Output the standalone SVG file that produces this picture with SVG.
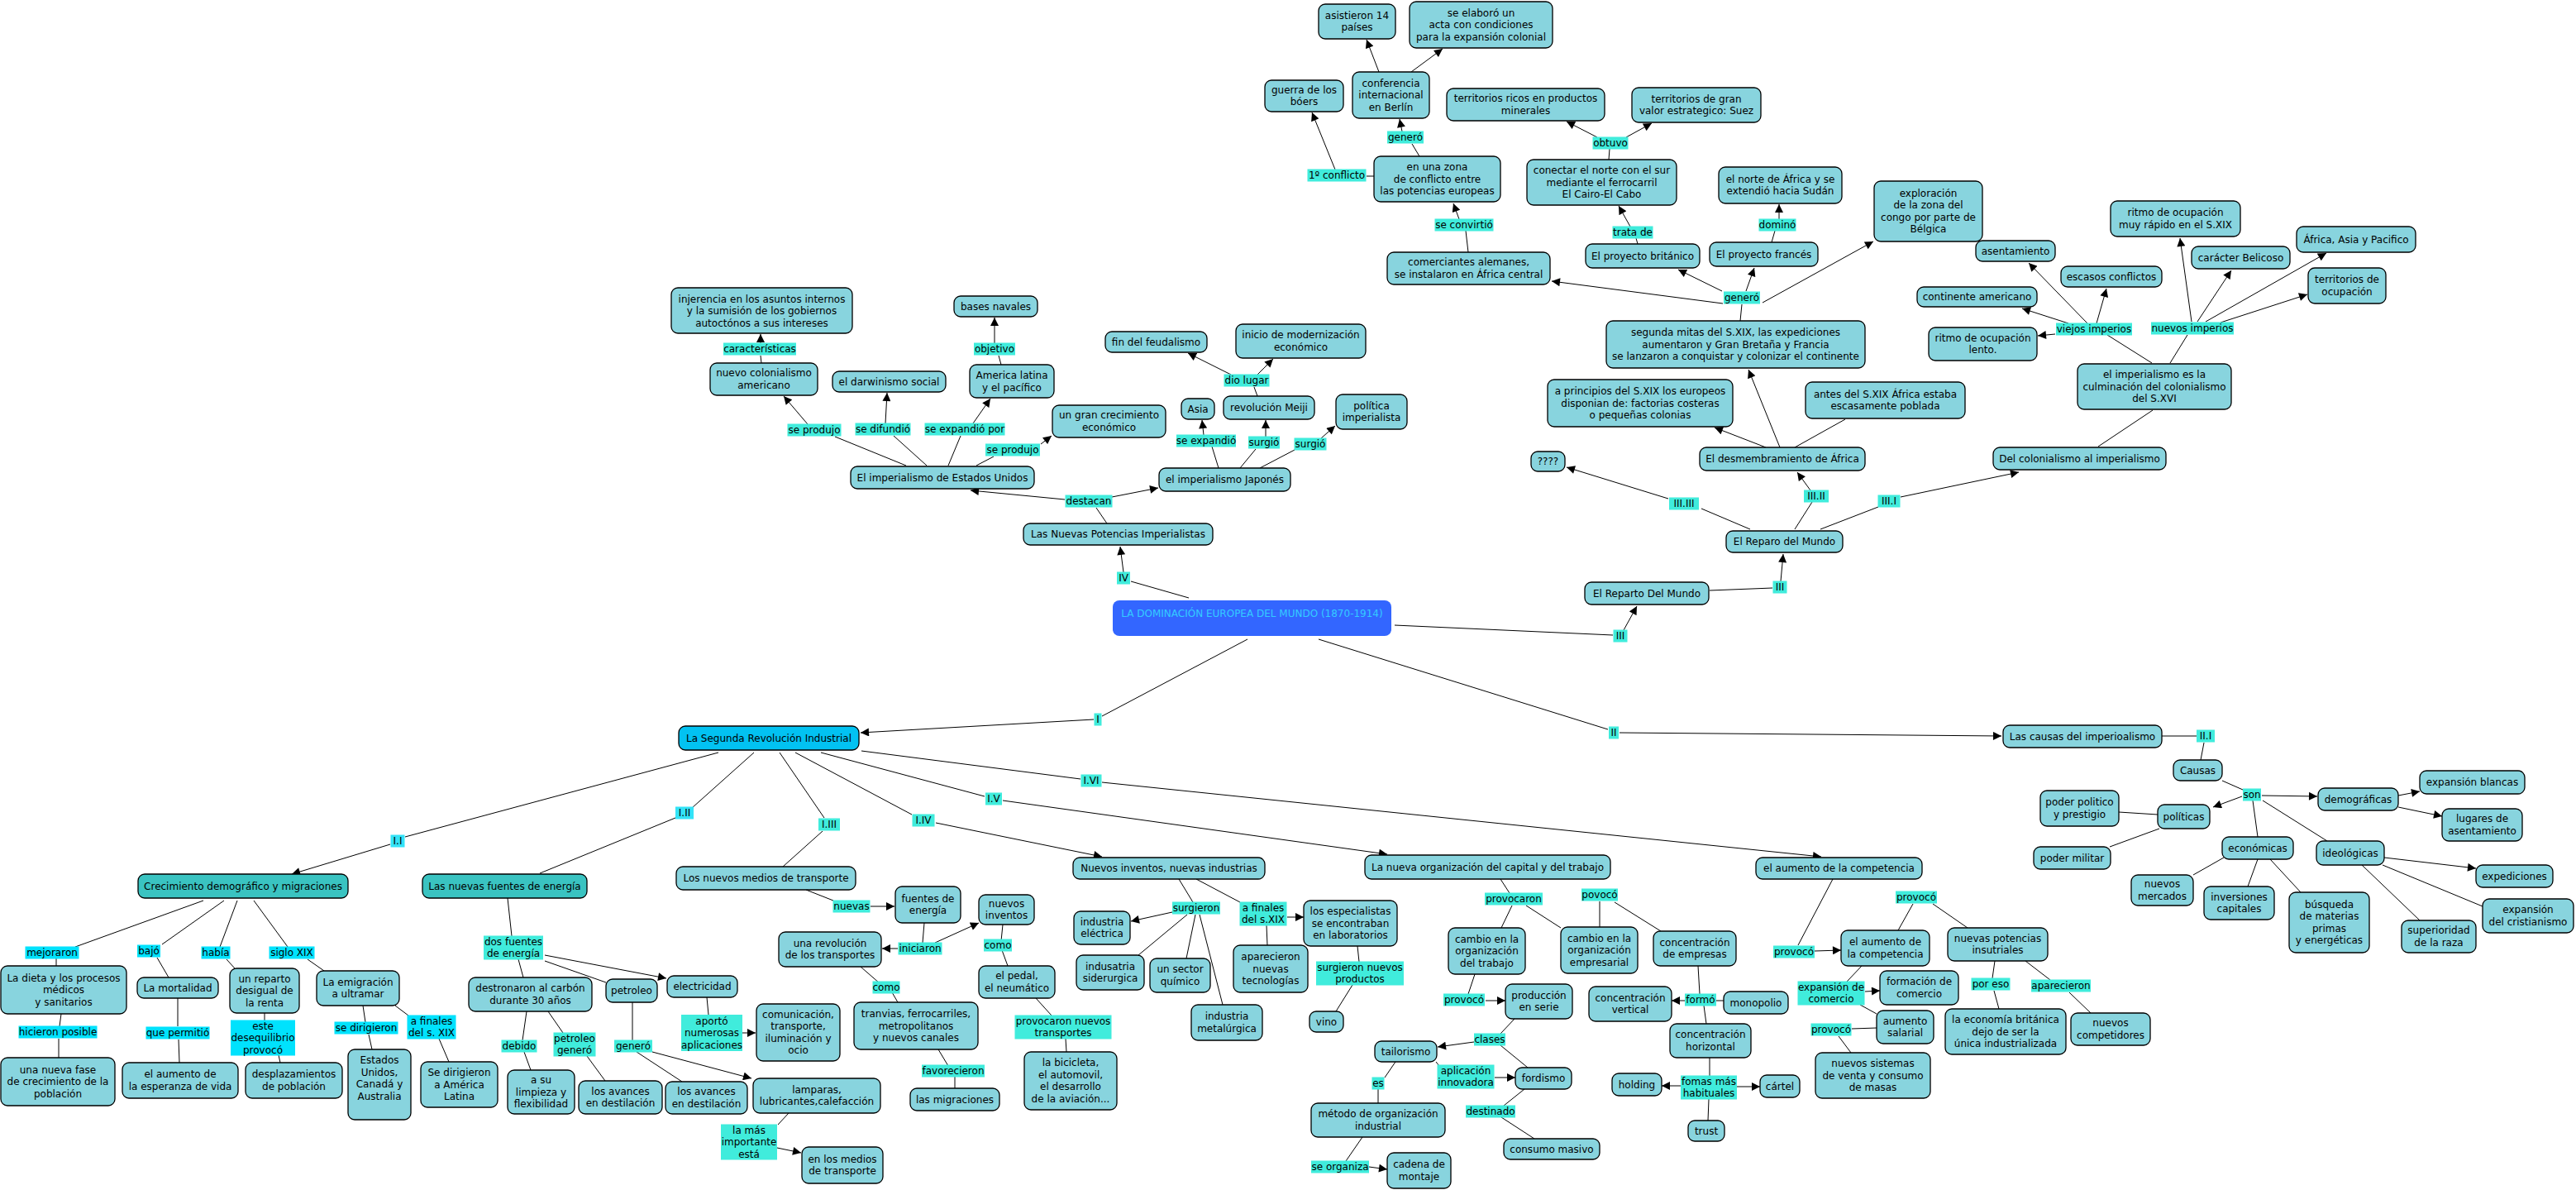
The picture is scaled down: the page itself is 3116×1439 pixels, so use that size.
<svg xmlns="http://www.w3.org/2000/svg" width="3116" height="1439" viewBox="0 0 3116 1439">
<style>
.n rect{fill:#88d4de;stroke:#000;stroke-width:1.3}
.d rect{fill:#3ac3c1}
.s rect{fill:#02c2f2}
text{font-family:"DejaVu Sans",Verdana,sans-serif;font-size:12px;fill:#000;text-anchor:middle}
.l rect{fill:#40ecdc}
.c rect{fill:#00e2fd}
#connectors line{stroke:#000;stroke-width:1}
#connectors .a{marker-end:url(#arr)}
</style>
<defs>
<marker id="arr" viewBox="0 0 10 10" refX="10" refY="5" markerWidth="11" markerHeight="10" markerUnits="userSpaceOnUse" orient="auto"><path d="M0,0 L10,5 L0,10 z" fill="#000"/></marker>
</defs>
<rect width="3116" height="1439" fill="#fff"/>
<g id="connectors">
<line x1="1438" y1="723" x2="1368" y2="703"/>
<line class="a" x1="1359" y1="692" x2="1355" y2="661"/>
<line x1="1509" y1="773" x2="1333" y2="866"/>
<line class="a" x1="1323" y1="870" x2="1041" y2="886"/>
<line x1="1687" y1="756" x2="1951" y2="768"/>
<line class="a" x1="1964" y1="762" x2="1980" y2="733"/>
<line x1="1595" y1="773" x2="1945" y2="882"/>
<line class="a" x1="1959" y1="886" x2="2421" y2="890"/>
<line x1="2068" y1="714" x2="2144" y2="711"/>
<line class="a" x1="2154" y1="703" x2="2157" y2="670"/>
<line x1="2117" y1="640" x2="2058" y2="615"/>
<line class="a" x1="2018" y1="603" x2="1895" y2="565"/>
<line x1="2171" y1="640" x2="2192" y2="607"/>
<line class="a" x1="2190" y1="593" x2="2174" y2="571"/>
<line x1="2202" y1="640" x2="2272" y2="613"/>
<line class="a" x1="2299" y1="601" x2="2442" y2="571"/>
<line x1="2538" y1="540" x2="2604" y2="496"/>
<line x1="2603" y1="439" x2="2549" y2="405"/>
<line x1="2625" y1="439" x2="2646" y2="405"/>
<line class="a" x1="2525" y1="391" x2="2454" y2="318"/>
<line class="a" x1="2536" y1="391" x2="2548" y2="349"/>
<line class="a" x1="2502" y1="391" x2="2446" y2="373"/>
<line class="a" x1="2486" y1="404" x2="2465" y2="406"/>
<line class="a" x1="2651" y1="389" x2="2637" y2="288"/>
<line class="a" x1="2658" y1="389" x2="2699" y2="327"/>
<line class="a" x1="2668" y1="389" x2="2814" y2="306"/>
<line class="a" x1="2686" y1="390" x2="2791" y2="356"/>
<line class="a" x1="2136" y1="541" x2="2074" y2="517"/>
<line class="a" x1="2153" y1="541" x2="2115" y2="447"/>
<line x1="2171" y1="541" x2="2232" y2="507"/>
<line x1="2105" y1="388" x2="2107" y2="368"/>
<line class="a" x1="2084" y1="367" x2="1877" y2="340"/>
<line class="a" x1="2083" y1="352" x2="2030" y2="326"/>
<line class="a" x1="2112" y1="352" x2="2122" y2="324"/>
<line class="a" x1="2132" y1="366" x2="2266" y2="292"/>
<line x1="1776" y1="305" x2="1773" y2="279"/>
<line class="a" x1="1765" y1="265" x2="1758" y2="246"/>
<line x1="1981" y1="295" x2="1979" y2="288"/>
<line class="a" x1="1972" y1="274" x2="1958" y2="249"/>
<line x1="2143" y1="293" x2="2147" y2="279"/>
<line class="a" x1="2152" y1="265" x2="2152" y2="247"/>
<line x1="1946" y1="193" x2="1947" y2="180"/>
<line class="a" x1="1932" y1="166" x2="1895" y2="147"/>
<line class="a" x1="1967" y1="166" x2="1998" y2="149"/>
<line x1="1717" y1="189" x2="1708" y2="174"/>
<line class="a" x1="1696" y1="159" x2="1693" y2="144"/>
<line x1="1662" y1="213" x2="1653" y2="213"/>
<line class="a" x1="1615" y1="205" x2="1587" y2="136"/>
<line class="a" x1="1668" y1="87" x2="1653" y2="48"/>
<line class="a" x1="1707" y1="87" x2="1745" y2="59"/>
<line x1="1339" y1="633" x2="1326" y2="614"/>
<line class="a" x1="1288" y1="604" x2="1174" y2="593"/>
<line class="a" x1="1345" y1="601" x2="1401" y2="590"/>
<line x1="1096" y1="563" x2="1010" y2="528"/>
<line class="a" x1="977" y1="513" x2="948" y2="479"/>
<line x1="1121" y1="563" x2="1081" y2="527"/>
<line class="a" x1="1071" y1="512" x2="1073" y2="475"/>
<line x1="1147" y1="563" x2="1162" y2="527"/>
<line class="a" x1="1177" y1="512" x2="1198" y2="482"/>
<line x1="1181" y1="563" x2="1202" y2="552"/>
<line class="a" x1="1259" y1="537" x2="1272" y2="527"/>
<line x1="921" y1="439" x2="920" y2="430"/>
<line class="a" x1="920" y1="415" x2="920" y2="404"/>
<line x1="1211" y1="441" x2="1208" y2="430"/>
<line class="a" x1="1203" y1="415" x2="1203" y2="384"/>
<line x1="1474" y1="566" x2="1466" y2="540"/>
<line class="a" x1="1456" y1="526" x2="1454" y2="508"/>
<line x1="1500" y1="566" x2="1519" y2="543"/>
<line class="a" x1="1531" y1="528" x2="1531" y2="508"/>
<line x1="1524" y1="566" x2="1566" y2="544"/>
<line class="a" x1="1598" y1="530" x2="1615" y2="515"/>
<line x1="1521" y1="479" x2="1517" y2="468"/>
<line class="a" x1="1489" y1="453" x2="1437" y2="427"/>
<line class="a" x1="1521" y1="453" x2="1540" y2="434"/>
<line x1="869" y1="910" x2="490" y2="1012"/>
<line class="a" x1="472" y1="1021" x2="353" y2="1057"/>
<line x1="912" y1="910" x2="837" y2="977"/>
<line x1="817" y1="989" x2="653" y2="1056"/>
<line x1="943" y1="910" x2="997" y2="989"/>
<line x1="995" y1="1005" x2="947" y2="1048"/>
<line x1="962" y1="910" x2="1103" y2="985"/>
<line class="a" x1="1132" y1="995" x2="1333" y2="1036"/>
<line x1="993" y1="910" x2="1191" y2="963"/>
<line class="a" x1="1213" y1="968" x2="1678" y2="1033"/>
<line x1="1042" y1="908" x2="1307" y2="942"/>
<line class="a" x1="1333" y1="946" x2="2203" y2="1036"/>
<line x1="246" y1="1089" x2="91" y2="1145"/>
<line x1="68" y1="1159" x2="68" y2="1168"/>
<line x1="271" y1="1089" x2="196" y2="1142"/>
<line x1="190" y1="1158" x2="204" y2="1182"/>
<line x1="287" y1="1089" x2="266" y2="1145"/>
<line x1="274" y1="1160" x2="284" y2="1171"/>
<line x1="307" y1="1089" x2="348" y2="1145"/>
<line x1="372" y1="1160" x2="392" y2="1174"/>
<line x1="74" y1="1226" x2="72" y2="1241"/>
<line x1="71" y1="1256" x2="71" y2="1279"/>
<line x1="215" y1="1207" x2="215" y2="1241"/>
<line x1="216" y1="1257" x2="217" y2="1285"/>
<line x1="320" y1="1225" x2="320" y2="1234"/>
<line x1="337" y1="1276" x2="339" y2="1285"/>
<line x1="439" y1="1216" x2="442" y2="1236"/>
<line x1="446" y1="1251" x2="450" y2="1269"/>
<line x1="478" y1="1216" x2="494" y2="1228"/>
<line x1="531" y1="1256" x2="543" y2="1284"/>
<line x1="614" y1="1086" x2="619" y2="1132"/>
<line x1="627" y1="1160" x2="633" y2="1182"/>
<line x1="659" y1="1162" x2="733" y2="1188"/>
<line class="a" x1="659" y1="1155" x2="806" y2="1183"/>
<line x1="637" y1="1223" x2="632" y2="1258"/>
<line x1="634" y1="1272" x2="642" y2="1294"/>
<line x1="663" y1="1223" x2="681" y2="1249"/>
<line x1="710" y1="1277" x2="732" y2="1307"/>
<line x1="765" y1="1212" x2="765" y2="1258"/>
<line x1="770" y1="1272" x2="825" y2="1308"/>
<line class="a" x1="789" y1="1272" x2="909" y2="1304"/>
<line x1="855" y1="1206" x2="857" y2="1227"/>
<line class="a" x1="898" y1="1249" x2="914" y2="1249"/>
<line x1="954" y1="1346" x2="941" y2="1360"/>
<line class="a" x1="940" y1="1388" x2="969" y2="1394"/>
<line x1="975" y1="1076" x2="1008" y2="1089"/>
<line class="a" x1="1053" y1="1096" x2="1082" y2="1096"/>
<line x1="1118" y1="1116" x2="1116" y2="1140"/>
<line class="a" x1="1086" y1="1147" x2="1067" y2="1147"/>
<line class="a" x1="1131" y1="1140" x2="1184" y2="1116"/>
<line x1="1041" y1="1169" x2="1064" y2="1189"/>
<line x1="1079" y1="1200" x2="1086" y2="1212"/>
<line x1="1135" y1="1269" x2="1147" y2="1289"/>
<line x1="1155" y1="1302" x2="1155" y2="1316"/>
<line x1="1213" y1="1118" x2="1211" y2="1138"/>
<line x1="1212" y1="1149" x2="1219" y2="1168"/>
<line x1="1253" y1="1207" x2="1272" y2="1228"/>
<line x1="1289" y1="1256" x2="1290" y2="1272"/>
<line x1="1426" y1="1063" x2="1443" y2="1091"/>
<line x1="1447" y1="1063" x2="1500" y2="1091"/>
<line class="a" x1="1418" y1="1103" x2="1368" y2="1114"/>
<line x1="1436" y1="1106" x2="1377" y2="1155"/>
<line x1="1446" y1="1106" x2="1435" y2="1159"/>
<line x1="1451" y1="1106" x2="1479" y2="1215"/>
<line x1="1532" y1="1119" x2="1533" y2="1143"/>
<line class="a" x1="1557" y1="1109" x2="1577" y2="1109"/>
<line x1="1642" y1="1144" x2="1644" y2="1163"/>
<line x1="1636" y1="1191" x2="1616" y2="1223"/>
<line x1="1815" y1="1063" x2="1826" y2="1080"/>
<line x1="1829" y1="1095" x2="1816" y2="1122"/>
<line x1="1846" y1="1095" x2="1888" y2="1122"/>
<line x1="1935" y1="1121" x2="1935" y2="1090"/>
<line x1="1953" y1="1091" x2="2009" y2="1126"/>
<line x1="1784" y1="1178" x2="1776" y2="1202"/>
<line class="a" x1="1797" y1="1210" x2="1821" y2="1210"/>
<line x1="1832" y1="1232" x2="1815" y2="1250"/>
<line class="a" x1="1783" y1="1260" x2="1739" y2="1266"/>
<line x1="1815" y1="1264" x2="1848" y2="1291"/>
<line x1="1737" y1="1284" x2="1741" y2="1289"/>
<line class="a" x1="1808" y1="1303" x2="1833" y2="1303"/>
<line x1="1688" y1="1284" x2="1675" y2="1303"/>
<line x1="1667" y1="1317" x2="1667" y2="1334"/>
<line x1="1648" y1="1375" x2="1628" y2="1404"/>
<line class="a" x1="1656" y1="1411" x2="1678" y2="1414"/>
<line x1="1844" y1="1317" x2="1819" y2="1337"/>
<line x1="1816" y1="1351" x2="1856" y2="1377"/>
<line x1="2054" y1="1168" x2="2056" y2="1202"/>
<line class="a" x1="2038" y1="1210" x2="2022" y2="1210"/>
<line x1="2076" y1="1210" x2="2085" y2="1210"/>
<line x1="2061" y1="1216" x2="2064" y2="1238"/>
<line x1="2068" y1="1279" x2="2068" y2="1301"/>
<line class="a" x1="2033" y1="1313" x2="2010" y2="1313"/>
<line class="a" x1="2101" y1="1314" x2="2129" y2="1314"/>
<line x1="2067" y1="1329" x2="2066" y2="1355"/>
<line x1="2217" y1="1063" x2="2175" y2="1143"/>
<line class="a" x1="2195" y1="1150" x2="2227" y2="1149"/>
<line x1="2314" y1="1093" x2="2296" y2="1125"/>
<line x1="2338" y1="1093" x2="2380" y2="1122"/>
<line x1="2252" y1="1168" x2="2234" y2="1187"/>
<line class="a" x1="2256" y1="1199" x2="2274" y2="1198"/>
<line x1="2250" y1="1215" x2="2270" y2="1226"/>
<line x1="2270" y1="1243" x2="2240" y2="1244"/>
<line x1="2224" y1="1253" x2="2239" y2="1273"/>
<line x1="2413" y1="1162" x2="2410" y2="1183"/>
<line x1="2412" y1="1198" x2="2418" y2="1220"/>
<line x1="2450" y1="1162" x2="2480" y2="1185"/>
<line x1="2503" y1="1200" x2="2529" y2="1225"/>
<line x1="2615" y1="890" x2="2657" y2="890"/>
<line x1="2666" y1="898" x2="2662" y2="919"/>
<line x1="2688" y1="944" x2="2713" y2="955"/>
<line class="a" x1="2712" y1="963" x2="2677" y2="976"/>
<line class="a" x1="2736" y1="962" x2="2803" y2="963"/>
<line x1="2725" y1="968" x2="2731" y2="1012"/>
<line x1="2737" y1="968" x2="2815" y2="1017"/>
<line x1="2610" y1="985" x2="2563" y2="982"/>
<line x1="2612" y1="1002" x2="2552" y2="1024"/>
<line class="a" x1="2901" y1="962" x2="2927" y2="957"/>
<line class="a" x1="2901" y1="976" x2="2954" y2="987"/>
<line x1="2690" y1="1037" x2="2653" y2="1058"/>
<line x1="2731" y1="1039" x2="2719" y2="1072"/>
<line x1="2746" y1="1039" x2="2783" y2="1079"/>
<line class="a" x1="2884" y1="1037" x2="2995" y2="1050"/>
<line x1="2882" y1="1046" x2="3003" y2="1096"/>
<line x1="2857" y1="1046" x2="2927" y2="1113"/>
</g>

<g id="n-injerencia" class="n"><rect x="812" y="348" width="219" height="55" rx="8"/><text><tspan x="921.5" y="365.5">injerencia en los asuntos internos</tspan><tspan x="921.5" y="380">y la sumisión de los gobiernos</tspan><tspan x="921.5" y="394.5">autoctónos a sus intereses</tspan></text></g>
<g id="n-nuevo-colonialismo" class="n"><rect x="859" y="439" width="130" height="39" rx="8"/><text><tspan x="924" y="455">nuevo colonialismo</tspan><tspan x="924" y="469.5">americano</tspan></text></g>
<g id="n-darwinismo" class="n"><rect x="1007" y="449" width="137" height="25" rx="8"/><text x="1075.5" y="466">el darwinismo social</text></g>
<g id="n-bases" class="n"><rect x="1154" y="358" width="101" height="25" rx="8"/><text x="1204.5" y="375">bases navales</text></g>
<g id="n-america-latina" class="n"><rect x="1173" y="441" width="102" height="40" rx="8"/><text><tspan x="1224" y="458">America latina</tspan><tspan x="1224" y="472.5">y el pacífico</tspan></text></g>
<g id="n-feudalismo" class="n"><rect x="1337" y="401" width="123" height="25" rx="8"/><text x="1398.5" y="418">fin del feudalismo</text></g>
<g id="n-modernizacion" class="n"><rect x="1495" y="392" width="157" height="41" rx="8"/><text><tspan x="1573.5" y="409.25">inicio de modernización</tspan><tspan x="1573.5" y="423.75">económico</tspan></text></g>
<g id="n-boers" class="n"><rect x="1530" y="97" width="95" height="38" rx="8"/><text><tspan x="1577.5" y="112.75">guerra de los</tspan><tspan x="1577.5" y="127.25">bóers</tspan></text></g>
<g id="n-asistieron" class="n"><rect x="1595" y="5" width="93" height="42" rx="8"/><text><tspan x="1641.5" y="22.75">asistieron 14</tspan><tspan x="1641.5" y="37.25">países</tspan></text></g>
<g id="n-acta" class="n"><rect x="1705" y="2" width="173" height="56" rx="8"/><text><tspan x="1791.5" y="19.5">se elaboró un</tspan><tspan x="1791.5" y="34">acta con condiciones</tspan><tspan x="1791.5" y="48.5">para la expansión colonial</tspan></text></g>
<g id="n-conferencia" class="n"><rect x="1636" y="87" width="93" height="56" rx="8"/><text><tspan x="1682.5" y="104.5">conferencia</tspan><tspan x="1682.5" y="119">internacional</tspan><tspan x="1682.5" y="133.5">en Berlín</tspan></text></g>
<g id="n-terr-ricos" class="n"><rect x="1750" y="107" width="191" height="39" rx="8"/><text><tspan x="1845.5" y="123.25">territorios ricos en productos</tspan><tspan x="1845.5" y="137.75">minerales</tspan></text></g>
<g id="n-terr-suez" class="n"><rect x="1974" y="106" width="156" height="42" rx="8"/><text><tspan x="2052" y="123.75">territorios de gran</tspan><tspan x="2052" y="138.25">valor estrategico: Suez</tspan></text></g>
<g id="n-zona" class="n"><rect x="1662" y="189" width="153" height="55" rx="8"/><text><tspan x="1738.5" y="206">en una zona</tspan><tspan x="1738.5" y="220.5">de conflicto entre</tspan><tspan x="1738.5" y="235">las potencias europeas</tspan></text></g>
<g id="n-conectar" class="n"><rect x="1847" y="193" width="181" height="55" rx="8"/><text><tspan x="1937.5" y="210">conectar el norte con el sur</tspan><tspan x="1937.5" y="224.5">mediante el ferrocarril</tspan><tspan x="1937.5" y="239">El Cairo-El Cabo</tspan></text></g>
<g id="n-norte-africa" class="n"><rect x="2079" y="202" width="149" height="44" rx="8"/><text><tspan x="2153.5" y="220.75">el norte de África y se</tspan><tspan x="2153.5" y="235.25">extendió hacia Sudán</tspan></text></g>
<g id="n-exploracion" class="n"><rect x="2267" y="219" width="131" height="73" rx="8"/><text><tspan x="2332.5" y="237.75">exploración</tspan><tspan x="2332.5" y="252.25">de la zona del</tspan><tspan x="2332.5" y="266.75">congo por parte de</tspan><tspan x="2332.5" y="281.25">Bélgica</tspan></text></g>
<g id="n-comerciantes" class="n"><rect x="1678" y="305" width="197" height="39" rx="8"/><text><tspan x="1776.5" y="321.25">comerciantes alemanes,</tspan><tspan x="1776.5" y="335.75">se instalaron en África central</tspan></text></g>
<g id="n-britanico" class="n"><rect x="1918" y="295" width="138" height="29" rx="8"/><text x="1987" y="313.5">El proyecto británico</text></g>
<g id="n-frances" class="n"><rect x="2068" y="293" width="131" height="29" rx="8"/><text x="2133.5" y="311.5">El proyecto francés</text></g>
<g id="n-segunda-mitad" class="n"><rect x="1943" y="388" width="313" height="57" rx="8"/><text><tspan x="2099.5" y="406">segunda mitas del S.XIX, las expediciones</tspan><tspan x="2099.5" y="420.5">aumentaron y Gran Bretaña y Francia</tspan><tspan x="2099.5" y="435">se lanzaron a conquistar y colonizar el continente</tspan></text></g>
<g id="n-principios" class="n"><rect x="1872" y="459" width="224" height="57" rx="8"/><text><tspan x="1984" y="477">a principios del S.XIX los europeos</tspan><tspan x="1984" y="491.5">disponian de: factorias costeras</tspan><tspan x="1984" y="506">o pequeñas colonias</tspan></text></g>
<g id="n-antes" class="n"><rect x="2184" y="462" width="193" height="44" rx="8"/><text><tspan x="2280.5" y="480.75">antes del S.XIX África estaba</tspan><tspan x="2280.5" y="495.25">escasamente poblada</tspan></text></g>
<g id="n-asentamiento" class="n"><rect x="2390" y="291" width="96" height="25" rx="8"/><text x="2438" y="308">asentamiento</text></g>
<g id="n-escasos" class="n"><rect x="2493" y="322" width="122" height="25" rx="8"/><text x="2554" y="339">escasos conflictos</text></g>
<g id="n-continente" class="n"><rect x="2319" y="347" width="145" height="24" rx="8"/><text x="2391.5" y="363">continente americano</text></g>
<g id="n-ritmo-lento" class="n"><rect x="2333" y="396" width="131" height="40" rx="8"/><text><tspan x="2398.5" y="412.75">ritmo de ocupación</tspan><tspan x="2398.5" y="427.25">lento.</tspan></text></g>
<g id="n-ritmo-rapido" class="n"><rect x="2553" y="243" width="157" height="43" rx="8"/><text><tspan x="2631.5" y="261.25">ritmo de ocupación</tspan><tspan x="2631.5" y="275.75">muy rápido en el S.XIX</tspan></text></g>
<g id="n-belicoso" class="n"><rect x="2651" y="298" width="119" height="27" rx="8"/><text x="2710.5" y="315.5">carácter Belicoso</text></g>
<g id="n-africa-asia" class="n"><rect x="2778" y="274" width="144" height="31" rx="8"/><text x="2850" y="293.5">África, Asia y Pacifico</text></g>
<g id="n-terr-ocupacion" class="n"><rect x="2792" y="324" width="94" height="43" rx="8"/><text><tspan x="2839" y="342.25">territorios de</tspan><tspan x="2839" y="356.75">ocupación</tspan></text></g>
<g id="n-culminacion" class="n"><rect x="2513" y="440" width="186" height="55" rx="8"/><text><tspan x="2606" y="457">el imperialismo es la</tspan><tspan x="2606" y="471.5">culminación del colonialismo</tspan><tspan x="2606" y="486">del S.XVI</tspan></text></g>
<g id="n-del-colonialismo" class="n"><rect x="2411" y="541" width="209" height="27" rx="8"/><text x="2515.5" y="558.5">Del colonialismo al imperialismo</text></g>
<g id="n-crecimiento-eco" class="n"><rect x="1273" y="490" width="137" height="39" rx="8"/><text><tspan x="1341.5" y="506.25">un gran crecimiento</tspan><tspan x="1341.5" y="520.75">económico</tspan></text></g>
<g id="n-asia" class="n"><rect x="1429" y="482" width="40" height="25" rx="8"/><text x="1449" y="499">Asia</text></g>
<g id="n-meiji" class="n"><rect x="1480" y="479" width="110" height="28" rx="8"/><text x="1535" y="497">revolución Meiji</text></g>
<g id="n-politica-imp" class="n"><rect x="1616" y="477" width="86" height="42" rx="8"/><text><tspan x="1659" y="494.75">política</tspan><tspan x="1659" y="509.25">imperialista</tspan></text></g>
<g id="n-eeuu" class="n"><rect x="1029" y="564" width="222" height="27" rx="8"/><text x="1140" y="581.5">El imperialismo de Estados Unidos</text></g>
<g id="n-japones" class="n"><rect x="1402" y="566" width="159" height="28" rx="8"/><text x="1481.5" y="584">el imperialismo Japonés</text></g>
<g id="n-interrog" class="n"><rect x="1852" y="546" width="41" height="24" rx="8"/><text x="1872.5" y="562">????</text></g>
<g id="n-desmembramiento" class="n"><rect x="2056" y="541" width="200" height="28" rx="8"/><text x="2156" y="559">El desmembramiento de África</text></g>
<g id="n-reparo" class="n"><rect x="2088" y="642" width="141" height="26" rx="8"/><text x="2158.5" y="659">El Reparo del Mundo</text></g>
<g id="n-reparto" class="n"><rect x="1917" y="704" width="150" height="27" rx="8"/><text x="1992" y="721.5">El Reparto Del Mundo</text></g>
<g id="n-nuevas-potencias-imp" class="n"><rect x="1238" y="633" width="229" height="26" rx="8"/><text x="1352.5" y="650">Las Nuevas Potencias Imperialistas</text></g>
<g id="n-root"><rect x="1346" y="726" width="337" height="43" rx="8" fill="#3366ff"/><text x="1514.5" y="746" style="fill:#33ccff">LA DOMINACIÓN EUROPEA DEL MUNDO (1870-1914)</text></g>
<g id="n-segunda-rev" class="n s"><rect x="821" y="878" width="218" height="29" rx="8"/><text x="930" y="896.5">La Segunda Revolución Industrial</text></g>
<g id="n-causas-imp" class="n"><rect x="2423" y="877" width="192" height="27" rx="8"/><text x="2519" y="894.5">Las causas del imperioalismo</text></g>
<g id="n-causas" class="n"><rect x="2629" y="919" width="59" height="25" rx="8"/><text x="2658.5" y="935.5">Causas</text></g>
<g id="n-exp-blancas" class="n"><rect x="2927" y="932" width="127" height="28" rx="8"/><text x="2990.5" y="950">expansión blancas</text></g>
<g id="n-poder-politico" class="n"><rect x="2468" y="956" width="95" height="43" rx="8"/><text><tspan x="2515.5" y="974.25">poder politico</tspan><tspan x="2515.5" y="988.75">y prestigio</tspan></text></g>
<g id="n-politicas" class="n"><rect x="2610" y="973" width="63" height="29" rx="8"/><text x="2641.5" y="991.5">políticas</text></g>
<g id="n-demograficas" class="n"><rect x="2804" y="953" width="97" height="27" rx="8"/><text x="2852.5" y="970.5">demográficas</text></g>
<g id="n-lugares" class="n"><rect x="2954" y="978" width="97" height="39" rx="8"/><text><tspan x="3002.5" y="994.25">lugares de</tspan><tspan x="3002.5" y="1008.75">asentamiento</tspan></text></g>
<g id="n-poder-militar" class="n"><rect x="2460" y="1024" width="93" height="27" rx="8"/><text x="2506.5" y="1041.5">poder militar</text></g>
<g id="n-economicas" class="n"><rect x="2688" y="1012" width="86" height="27" rx="8"/><text x="2731" y="1029.5">económicas</text></g>
<g id="n-ideologicas" class="n"><rect x="2802" y="1017" width="82" height="29" rx="8"/><text x="2843" y="1035.5">ideológicas</text></g>
<g id="n-expediciones" class="n"><rect x="2995" y="1046" width="93" height="27" rx="8"/><text x="3041.5" y="1063.5">expediciones</text></g>
<g id="n-mercados" class="n"><rect x="2578" y="1058" width="75" height="37" rx="8"/><text><tspan x="2615.5" y="1073.25">nuevos</tspan><tspan x="2615.5" y="1087.75">mercados</tspan></text></g>
<g id="n-inversiones" class="n"><rect x="2666" y="1072" width="85" height="40" rx="8"/><text><tspan x="2708.5" y="1088.75">inversiones</tspan><tspan x="2708.5" y="1103.25">capitales</tspan></text></g>
<g id="n-busqueda" class="n"><rect x="2769" y="1079" width="97" height="73" rx="8"/><text><tspan x="2817.5" y="1097.75">búsqueda</tspan><tspan x="2817.5" y="1112.25">de materias</tspan><tspan x="2817.5" y="1126.75">primas</tspan><tspan x="2817.5" y="1141.25">y energéticas</tspan></text></g>
<g id="n-superioridad" class="n"><rect x="2905" y="1113" width="90" height="39" rx="8"/><text><tspan x="2950" y="1129.25">superioridad</tspan><tspan x="2950" y="1143.75">de la raza</tspan></text></g>
<g id="n-cristianismo" class="n"><rect x="3003" y="1087" width="110" height="41" rx="8"/><text><tspan x="3058" y="1104.25">expansión</tspan><tspan x="3058" y="1118.75">del cristianismo</tspan></text></g>
<g id="n-nuevas-potencias-ind" class="n"><rect x="2356" y="1122" width="121" height="40" rx="8"/><text><tspan x="2416.5" y="1138.75">nuevas potencias</tspan><tspan x="2416.5" y="1153.25">insutriales</tspan></text></g>
<g id="n-economia-brit" class="n"><rect x="2353" y="1220" width="146" height="55" rx="8"/><text><tspan x="2426" y="1237">la economía británica</tspan><tspan x="2426" y="1251.5">dejo de ser la</tspan><tspan x="2426" y="1266">única industrializada</tspan></text></g>
<g id="n-competidores" class="n"><rect x="2505" y="1225" width="96" height="39" rx="8"/><text><tspan x="2553" y="1241.25">nuevos</tspan><tspan x="2553" y="1255.75">competidores</tspan></text></g>

<g id="n-crecimiento-dem" class="n d"><rect x="167" y="1057" width="254" height="29" rx="8"/><text x="294" y="1075.5">Crecimiento demográfico y migraciones</text></g>
<g id="n-nuevas-fuentes" class="n d"><rect x="511" y="1057" width="199" height="29" rx="8"/><text x="610.5" y="1075.5">Las nuevas fuentes de energía</text></g>
<g id="n-dieta" class="n"><rect x="1" y="1168" width="152" height="58" rx="8"/><text><tspan x="77" y="1186.5">La dieta y los procesos</tspan><tspan x="77" y="1201">médicos</tspan><tspan x="77" y="1215.5">y sanitarios</tspan></text></g>
<g id="n-mortalidad" class="n"><rect x="166" y="1182" width="98" height="25" rx="8"/><text x="215" y="1198.5">La mortalidad</text></g>
<g id="n-reparto-renta" class="n"><rect x="278" y="1171" width="84" height="54" rx="8"/><text><tspan x="320" y="1187.5">un reparto</tspan><tspan x="320" y="1202">desigual de</tspan><tspan x="320" y="1216.5">la renta</tspan></text></g>
<g id="n-emigracion" class="n"><rect x="383" y="1174" width="100" height="42" rx="8"/><text><tspan x="433" y="1191.75">La emigración</tspan><tspan x="433" y="1206.25">a ultramar</tspan></text></g>
<g id="n-nueva-fase" class="n"><rect x="1" y="1279" width="138" height="58" rx="8"/><text><tspan x="70" y="1297.5">una nueva fase</tspan><tspan x="70" y="1312">de crecimiento de la</tspan><tspan x="70" y="1326.5">población</tspan></text></g>
<g id="n-esperanza" class="n"><rect x="148" y="1285" width="140" height="43" rx="8"/><text><tspan x="218" y="1303.25">el aumento de</tspan><tspan x="218" y="1317.75">la esperanza de vida</tspan></text></g>
<g id="n-desplazamientos" class="n"><rect x="297" y="1285" width="117" height="43" rx="8"/><text><tspan x="355.5" y="1303.25">desplazamientos</tspan><tspan x="355.5" y="1317.75">de población</tspan></text></g>
<g id="n-eeuu-canada" class="n"><rect x="421" y="1269" width="76" height="85" rx="8"/><text><tspan x="459" y="1286">Estados</tspan><tspan x="459" y="1300.5">Unidos,</tspan><tspan x="459" y="1315">Canadá y</tspan><tspan x="459" y="1329.5">Australia</tspan></text></g>
<g id="n-america-lat" class="n"><rect x="509" y="1284" width="93" height="55" rx="8"/><text><tspan x="555.5" y="1301">Se dirigieron</tspan><tspan x="555.5" y="1315.5">a América</tspan><tspan x="555.5" y="1330">Latina</tspan></text></g>
<g id="n-destronaron" class="n"><rect x="567" y="1182" width="149" height="41" rx="8"/><text><tspan x="641.5" y="1199.25">destronaron al carbón</tspan><tspan x="641.5" y="1213.75">durante 30 años</tspan></text></g>
<g id="n-petroleo" class="n"><rect x="733" y="1184" width="62" height="28" rx="8"/><text x="764" y="1202">petroleo</text></g>
<g id="n-limpieza" class="n"><rect x="614" y="1294" width="81" height="53" rx="8"/><text><tspan x="654.5" y="1310">a su</tspan><tspan x="654.5" y="1324.5">limpieza y</tspan><tspan x="654.5" y="1339">flexibilidad</tspan></text></g>
<g id="n-avances1" class="n"><rect x="700" y="1307" width="101" height="40" rx="8"/><text><tspan x="750.5" y="1323.75">los avances</tspan><tspan x="750.5" y="1338.25">en destilación</tspan></text></g>
<g id="n-electricidad" class="n"><rect x="807" y="1180" width="85" height="26" rx="8"/><text x="849.5" y="1197">electricidad</text></g>
<g id="n-comunicacion" class="n"><rect x="915" y="1214" width="101" height="69" rx="8"/><text><tspan x="965.5" y="1230.75">comunicación,</tspan><tspan x="965.5" y="1245.25">transporte,</tspan><tspan x="965.5" y="1259.75">iluminación y</tspan><tspan x="965.5" y="1274.25">ocio</tspan></text></g>
<g id="n-lamparas" class="n"><rect x="911" y="1304" width="154" height="42" rx="8"/><text><tspan x="988" y="1321.75">lamparas,</tspan><tspan x="988" y="1336.25">lubricantes,calefacción</tspan></text></g>
<g id="n-avances2" class="n"><rect x="805" y="1308" width="99" height="39" rx="8"/><text><tspan x="854.5" y="1324.25">los avances</tspan><tspan x="854.5" y="1338.75">en destilación</tspan></text></g>
<g id="n-medios-transp" class="n"><rect x="970" y="1387" width="98" height="44" rx="8"/><text><tspan x="1019" y="1405.75">en los medios</tspan><tspan x="1019" y="1420.25">de transporte</tspan></text></g>
<g id="n-nuevos-medios" class="n"><rect x="818" y="1048" width="217" height="28" rx="8"/><text x="926.5" y="1066">Los nuevos medios de transporte</text></g>
<g id="n-fuentes-energia" class="n"><rect x="1083" y="1072" width="79" height="44" rx="8"/><text><tspan x="1122.5" y="1090.75">fuentes de</tspan><tspan x="1122.5" y="1105.25">energía</tspan></text></g>
<g id="n-nuevos-inventos" class="n"><rect x="1184" y="1082" width="67" height="36" rx="8"/><text><tspan x="1217.5" y="1096.75">nuevos</tspan><tspan x="1217.5" y="1111.25">inventos</tspan></text></g>
<g id="n-revolucion-transp" class="n"><rect x="942" y="1127" width="124" height="42" rx="8"/><text><tspan x="1004" y="1144.75">una revolución</tspan><tspan x="1004" y="1159.25">de los transportes</tspan></text></g>
<g id="n-pedal" class="n"><rect x="1184" y="1168" width="92" height="39" rx="8"/><text><tspan x="1230" y="1184.25">el pedal,</tspan><tspan x="1230" y="1198.75">el neumático</tspan></text></g>
<g id="n-tranvias" class="n"><rect x="1033" y="1212" width="150" height="57" rx="8"/><text><tspan x="1108" y="1230">tranvias, ferrocarriles,</tspan><tspan x="1108" y="1244.5">metropolitanos</tspan><tspan x="1108" y="1259">y nuevos canales</tspan></text></g>
<g id="n-migraciones" class="n"><rect x="1101" y="1316" width="108" height="27" rx="8"/><text x="1155" y="1333.5">las migraciones</text></g>
<g id="n-bicicleta" class="n"><rect x="1239" y="1272" width="112" height="70" rx="8"/><text><tspan x="1295" y="1289.25">la bicicleta,</tspan><tspan x="1295" y="1303.75">el automovil,</tspan><tspan x="1295" y="1318.25">el desarrollo</tspan><tspan x="1295" y="1332.75">de la aviación...</tspan></text></g>
<g id="n-nuevos-inv-ind" class="n"><rect x="1298" y="1037" width="232" height="26" rx="8"/><text x="1414" y="1054">Nuevos inventos, nuevas industrias</text></g>
<g id="n-ind-electrica" class="n"><rect x="1299" y="1102" width="68" height="40" rx="8"/><text><tspan x="1333" y="1118.75">industria</tspan><tspan x="1333" y="1133.25">eléctrica</tspan></text></g>
<g id="n-siderurgica" class="n"><rect x="1302" y="1155" width="82" height="42" rx="8"/><text><tspan x="1343" y="1172.75">indusatria</tspan><tspan x="1343" y="1187.25">siderurgica</tspan></text></g>
<g id="n-quimico" class="n"><rect x="1391" y="1159" width="73" height="41" rx="8"/><text><tspan x="1427.5" y="1176.25">un sector</tspan><tspan x="1427.5" y="1190.75">químico</tspan></text></g>
<g id="n-metalurgica" class="n"><rect x="1441" y="1215" width="86" height="43" rx="8"/><text><tspan x="1484" y="1233.25">industria</tspan><tspan x="1484" y="1247.75">metalúrgica</tspan></text></g>
<g id="n-tecnologias" class="n"><rect x="1492" y="1143" width="90" height="57" rx="8"/><text><tspan x="1537" y="1161">aparecieron</tspan><tspan x="1537" y="1175.5">nuevas</tspan><tspan x="1537" y="1190">tecnologías</tspan></text></g>
<g id="n-nueva-org" class="n"><rect x="1651" y="1034" width="297" height="29" rx="8"/><text x="1799.5" y="1052.5">La nueva organización del capital y del trabajo</text></g>
<g id="n-competencia" class="n"><rect x="2124" y="1037" width="201" height="26" rx="8"/><text x="2224.5" y="1054">el aumento de la competencia</text></g>
<g id="n-especialistas" class="n"><rect x="1577" y="1089" width="113" height="55" rx="8"/><text><tspan x="1633.5" y="1106">los especialistas</tspan><tspan x="1633.5" y="1120.5">se encontraban</tspan><tspan x="1633.5" y="1135">en laboratorios</tspan></text></g>
<g id="n-vino" class="n"><rect x="1584" y="1223" width="41" height="25" rx="8"/><text x="1604.5" y="1239.5">vino</text></g>
<g id="n-cambio-trabajo" class="n"><rect x="1752" y="1122" width="93" height="56" rx="8"/><text><tspan x="1798.5" y="1139.5">cambio en la</tspan><tspan x="1798.5" y="1154">organización</tspan><tspan x="1798.5" y="1168.5">del trabajo</tspan></text></g>
<g id="n-cambio-empresarial" class="n"><rect x="1888" y="1121" width="93" height="56" rx="8"/><text><tspan x="1934.5" y="1138.5">cambio en la</tspan><tspan x="1934.5" y="1153">organización</tspan><tspan x="1934.5" y="1167.5">empresarial</tspan></text></g>
<g id="n-concentracion" class="n"><rect x="2000" y="1126" width="100" height="42" rx="8"/><text><tspan x="2050" y="1143.75">concentración</tspan><tspan x="2050" y="1158.25">de empresas</tspan></text></g>
<g id="n-produccion" class="n"><rect x="1821" y="1190" width="81" height="42" rx="8"/><text><tspan x="1861.5" y="1207.75">producción</tspan><tspan x="1861.5" y="1222.25">en serie</tspan></text></g>
<g id="n-vertical" class="n"><rect x="1922" y="1193" width="100" height="42" rx="8"/><text><tspan x="1972" y="1210.75">concentración</tspan><tspan x="1972" y="1225.25">vertical</tspan></text></g>
<g id="n-monopolio" class="n"><rect x="2085" y="1199" width="78" height="27" rx="8"/><text x="2124" y="1216.5">monopolio</text></g>
<g id="n-horizontal" class="n"><rect x="2020" y="1238" width="98" height="41" rx="8"/><text><tspan x="2069" y="1255.25">concentración</tspan><tspan x="2069" y="1269.75">horizontal</tspan></text></g>
<g id="n-tailorismo" class="n"><rect x="1663" y="1259" width="75" height="25" rx="8"/><text x="1700.5" y="1275.5">tailorismo</text></g>
<g id="n-fordismo" class="n"><rect x="1833" y="1291" width="68" height="26" rx="8"/><text x="1867" y="1308">fordismo</text></g>
<g id="n-metodo" class="n"><rect x="1586" y="1334" width="162" height="41" rx="8"/><text><tspan x="1667" y="1351.25">método de organización</tspan><tspan x="1667" y="1365.75">industrial</tspan></text></g>
<g id="n-consumo" class="n"><rect x="1819" y="1377" width="116" height="25" rx="8"/><text x="1877" y="1393.5">consumo masivo</text></g>
<g id="n-cadena" class="n"><rect x="1678" y="1394" width="77" height="43" rx="8"/><text><tspan x="1716.5" y="1412.25">cadena de</tspan><tspan x="1716.5" y="1426.75">montaje</tspan></text></g>
<g id="n-holding" class="n"><rect x="1950" y="1298" width="60" height="27" rx="8"/><text x="1980" y="1315.5">holding</text></g>
<g id="n-cartel" class="n"><rect x="2129" y="1300" width="48" height="27" rx="8"/><text x="2153" y="1317.5">cártel</text></g>
<g id="n-trust" class="n"><rect x="2042" y="1355" width="44" height="25" rx="8"/><text x="2064" y="1371.5">trust</text></g>
<g id="n-competencia2" class="n"><rect x="2227" y="1125" width="107" height="43" rx="8"/><text><tspan x="2280.5" y="1143.25">el aumento de</tspan><tspan x="2280.5" y="1157.75">la competencia</tspan></text></g>
<g id="n-formacion" class="n"><rect x="2274" y="1174" width="95" height="41" rx="8"/><text><tspan x="2321.5" y="1191.25">formación de</tspan><tspan x="2321.5" y="1205.75">comercio</tspan></text></g>
<g id="n-salarial" class="n"><rect x="2270" y="1222" width="69" height="40" rx="8"/><text><tspan x="2304.5" y="1238.75">aumento</tspan><tspan x="2304.5" y="1253.25">salarial</tspan></text></g>
<g id="n-sistemas" class="n"><rect x="2196" y="1273" width="139" height="55" rx="8"/><text><tspan x="2265.5" y="1290">nuevos sistemas</tspan><tspan x="2265.5" y="1304.5">de venta y consumo</tspan><tspan x="2265.5" y="1319">de masas</tspan></text></g>

<g id="labels">
<g class="l"><rect x="875" y="414.5" width="88" height="15"/><text x="919" y="426">características</text></g>
<g class="l"><rect x="1178" y="414.5" width="50" height="15"/><text x="1203" y="426">objetivo</text></g>
<g class="l"><rect x="952.5" y="512.5" width="65" height="15"/><text x="985" y="524">se produjo</text></g>
<g class="l"><rect x="1034.5" y="511.5" width="67" height="15"/><text x="1068" y="523">se difundió</text></g>
<g class="l"><rect x="1118.5" y="511.5" width="97" height="15"/><text x="1167" y="523">se expandió por</text></g>
<g class="l"><rect x="1192" y="536.5" width="66" height="15"/><text x="1225" y="548">se produjo</text></g>
<g class="l"><rect x="1480.5" y="452.5" width="55" height="15"/><text x="1508" y="464">dio lugar</text></g>
<g class="l"><rect x="1423" y="525.5" width="72" height="15"/><text x="1459" y="537">se expandió</text></g>
<g class="l"><rect x="1510" y="527.5" width="38" height="15"/><text x="1529" y="539">surgió</text></g>
<g class="l"><rect x="1565.5" y="529.5" width="39" height="15"/><text x="1585" y="541">surgió</text></g>
<g class="l"><rect x="1288.5" y="598.5" width="57" height="15"/><text x="1317" y="610">destacan</text></g>
<g class="l"><rect x="1351" y="691.5" width="16" height="15"/><text x="1359" y="703">IV</text></g>
<g class="l"><rect x="1323.5" y="862.5" width="9" height="15"/><text x="1328" y="874">I</text></g>
<g class="l"><rect x="1951.5" y="761.5" width="17" height="15"/><text x="1960" y="773">III</text></g>
<g class="l"><rect x="2144.5" y="702.5" width="17" height="15"/><text x="2153" y="714">III</text></g>
<g class="l"><rect x="1946" y="878.5" width="12" height="15"/><text x="1952" y="890">II</text></g>
<g class="l"><rect x="2019" y="601.5" width="36" height="15"/><text x="2037" y="613">III.III</text></g>
<g class="l"><rect x="2182" y="592.5" width="30" height="15"/><text x="2197" y="604">III.II</text></g>
<g class="l"><rect x="2271.5" y="598.5" width="27" height="15"/><text x="2285" y="610">III.I</text></g>
<g class="l"><rect x="1678" y="158.5" width="44" height="15"/><text x="1700" y="170">generó</text></g>
<g class="l"><rect x="1581.5" y="204.5" width="71" height="15"/><text x="1617" y="216">1º conflicto</text></g>
<g class="l"><rect x="1926.5" y="165.5" width="43" height="15"/><text x="1948" y="177">obtuvo</text></g>
<g class="l"><rect x="1735.5" y="264.5" width="71" height="15"/><text x="1771" y="276">se convirtió</text></g>
<g class="l"><rect x="1950.5" y="273.5" width="49" height="15"/><text x="1975" y="285">trata de</text></g>
<g class="l"><rect x="2127.5" y="264.5" width="45" height="15"/><text x="2150" y="276">dominó</text></g>
<g class="l"><rect x="2085" y="352.5" width="44" height="15"/><text x="2107" y="364">generó</text></g>
<g class="l"><rect x="2487" y="390.5" width="92" height="15"/><text x="2533" y="402">viejos imperios</text></g>
<g class="l"><rect x="2602" y="389.5" width="100" height="15"/><text x="2652" y="401">nuevos imperios</text></g>
<g class="l"><rect x="2657" y="882.5" width="22" height="15"/><text x="2668" y="894">II.I</text></g>
<g class="l"><rect x="2713" y="953.5" width="22" height="15"/><text x="2724" y="965">son</text></g>
<g class="l c"><rect x="472.5" y="1009.5" width="17" height="15" style="fill:#33e3f7"/><text x="481" y="1021">I.I</text></g>
<g class="l c"><rect x="817" y="975.5" width="22" height="15" style="fill:#33e3f7"/><text x="828" y="987">I.II</text></g>
<g class="l"><rect x="990" y="989.5" width="26" height="15"/><text x="1003" y="1001">I.III</text></g>
<g class="l"><rect x="1103.5" y="984.5" width="27" height="15"/><text x="1117" y="996">I.IV</text></g>
<g class="l"><rect x="1192" y="958.5" width="20" height="15"/><text x="1202" y="970">I.V</text></g>
<g class="l"><rect x="1307.5" y="936.5" width="25" height="15"/><text x="1320" y="948">I.VI</text></g>
<g class="l c"><rect x="30.5" y="1144.5" width="65" height="15"/><text x="63" y="1156">mejoraron</text></g>
<g class="l c"><rect x="166" y="1142.5" width="28" height="15"/><text x="180" y="1154">bajó</text></g>
<g class="l c"><rect x="243.5" y="1144.5" width="35" height="15"/><text x="261" y="1156">había</text></g>
<g class="l c"><rect x="325.5" y="1144.5" width="55" height="15"/><text x="353" y="1156">siglo XIX</text></g>
<g class="l c"><rect x="22.5" y="1240.5" width="95" height="15"/><text x="70" y="1252">hicieron posible</text></g>
<g class="l c"><rect x="176.5" y="1241.5" width="77" height="15"/><text x="215" y="1253">que permitió</text></g>
<g class="l c"><rect x="279" y="1233.5" width="78" height="43"/><text><tspan x="318" y="1244.5">este</tspan><tspan x="318" y="1259">desequilibrio</tspan><tspan x="318" y="1273.5">provocó</tspan></text></g>
<g class="l c"><rect x="404.5" y="1235.5" width="77" height="15"/><text x="443" y="1247">se dirigieron</text></g>
<g class="l c"><rect x="492.5" y="1227.5" width="59" height="29"/><text><tspan x="522" y="1238.75">a finales</tspan><tspan x="522" y="1253.25">del s. XIX</tspan></text></g>
<g class="l"><rect x="585" y="1131.5" width="72" height="29"/><text><tspan x="621" y="1142.75">dos fuentes</tspan><tspan x="621" y="1157.25">de energía</tspan></text></g>
<g class="l"><rect x="606.5" y="1257.5" width="43" height="15"/><text x="628" y="1269">debido</text></g>
<g class="l"><rect x="669.5" y="1248.5" width="51" height="29"/><text><tspan x="695" y="1259.75">petroleo</tspan><tspan x="695" y="1274.25">generó</tspan></text></g>
<g class="l"><rect x="743" y="1257.5" width="46" height="15"/><text x="766" y="1269">generó</text></g>
<g class="l"><rect x="824" y="1227" width="74" height="44"/><text><tspan x="861" y="1238.5">aportó</tspan><tspan x="861" y="1253">numerosas</tspan><tspan x="861" y="1267.5">aplicaciones</tspan></text></g>
<g class="l"><rect x="872" y="1359.5" width="68" height="43"/><text><tspan x="906" y="1370.5">la más</tspan><tspan x="906" y="1385">importante</tspan><tspan x="906" y="1399.5">está</tspan></text></g>
<g class="l"><rect x="1007.5" y="1088.5" width="45" height="15"/><text x="1030" y="1100">nuevas</text></g>
<g class="l"><rect x="1086.5" y="1139.5" width="53" height="15"/><text x="1113" y="1151">iniciaron</text></g>
<g class="l"><rect x="1055.5" y="1186.5" width="33" height="15"/><text x="1072" y="1198">como</text></g>
<g class="l"><rect x="1190" y="1135.5" width="34" height="15"/><text x="1207" y="1147">como</text></g>
<g class="l"><rect x="1115" y="1287.5" width="76" height="15"/><text x="1153" y="1299">favorecieron</text></g>
<g class="l"><rect x="1227.5" y="1227.5" width="117" height="29"/><text><tspan x="1286" y="1238.75">provocaron nuevos</tspan><tspan x="1286" y="1253.25">transportes</tspan></text></g>
<g class="l"><rect x="1418" y="1090.5" width="58" height="15"/><text x="1447" y="1102">surgieron</text></g>
<g class="l"><rect x="1499.5" y="1090.5" width="57" height="29"/><text><tspan x="1528" y="1101.75">a finales</tspan><tspan x="1528" y="1116.25">del s.XIX</tspan></text></g>
<g class="l"><rect x="1592" y="1162.5" width="106" height="29"/><text><tspan x="1645" y="1173.75">surgieron nuevos</tspan><tspan x="1645" y="1188.25">productos</tspan></text></g>
<g class="l"><rect x="1796" y="1079.5" width="70" height="15"/><text x="1831" y="1091">provocaron</text></g>
<g class="l"><rect x="1913" y="1074.5" width="44" height="15"/><text x="1935" y="1086">povocó</text></g>
<g class="l"><rect x="1746" y="1201.5" width="50" height="15"/><text x="1771" y="1213">provocó</text></g>
<g class="l"><rect x="1783" y="1249.5" width="38" height="15"/><text x="1802" y="1261">clases</text></g>
<g class="l"><rect x="1738.5" y="1287.5" width="69" height="29"/><text><tspan x="1773" y="1298.75">aplicación</tspan><tspan x="1773" y="1313.25">innovadora</tspan></text></g>
<g class="l"><rect x="1659.5" y="1302.5" width="15" height="15"/><text x="1667" y="1314">es</text></g>
<g class="l"><rect x="1773" y="1336.5" width="60" height="15"/><text x="1803" y="1348">destinado</text></g>
<g class="l"><rect x="1586" y="1403.5" width="70" height="15"/><text x="1621" y="1415">se organiza</text></g>
<g class="l"><rect x="2038" y="1201.5" width="38" height="15"/><text x="2057" y="1213">formó</text></g>
<g class="l"><rect x="2033" y="1300.5" width="68" height="29"/><text><tspan x="2067" y="1311.75">fomas más</tspan><tspan x="2067" y="1326.25">habituales</tspan></text></g>
<g class="l"><rect x="2145" y="1143.5" width="50" height="15"/><text x="2170" y="1155">provocó</text></g>
<g class="l"><rect x="2293" y="1077.5" width="50" height="15"/><text x="2318" y="1089">provocó</text></g>
<g class="l"><rect x="2174.5" y="1186.5" width="81" height="29"/><text><tspan x="2215" y="1197.75">expansión de</tspan><tspan x="2215" y="1212.25">comercio</tspan></text></g>
<g class="l"><rect x="2190.5" y="1237.5" width="49" height="15"/><text x="2215" y="1249">provocó</text></g>
<g class="l"><rect x="2384.5" y="1182.5" width="47" height="15"/><text x="2408" y="1194">por eso</text></g>
<g class="l"><rect x="2457" y="1184.5" width="72" height="15"/><text x="2493" y="1196">aparecieron</text></g>
</g>
</svg>
